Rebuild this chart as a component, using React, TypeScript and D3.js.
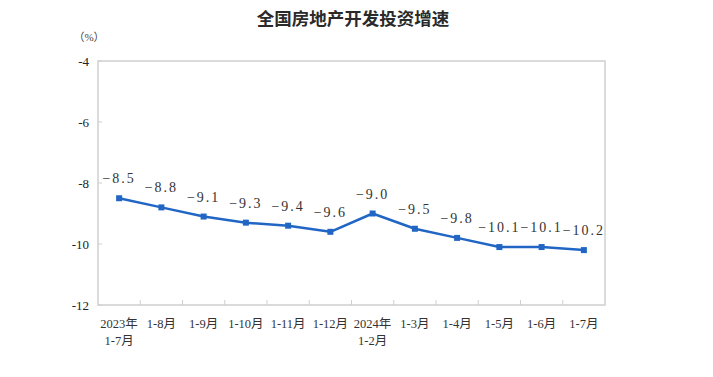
import React from "react";
import * as d3 from "d3";

const categories = ["2023年\n1-7月", "1-8月", "1-9月", "1-10月", "1-11月", "1-12月", "2024年\n1-2月", "1-3月", "1-4月", "1-5月", "1-6月", "1-7月"];
const values = [-8.5, -8.8, -9.1, -9.3, -9.4, -9.6, -9.0, -9.5, -9.8, -10.1, -10.1, -10.2];
const yTicks = [-4, -6, -8, -10, -12];
const title = "全国房地产开发投资增速";
const unitLabel = "（%）";

const W = 713, H = 377;
const M = { left: 98, right: 605, top: 61, bottom: 305 };
const FONT = "'Liberation Serif', 'DejaVu Serif', 'Noto Sans CJK SC', serif";
const BLUE = "#2166c4";

export default function App() {
  const x = d3.scaleBand<string>().domain(categories).range([M.left, M.right]);
  const y = d3.scaleLinear().domain([-12, -4]).range([M.bottom, M.top]);
  const pts = values.map((v, i) => [x(categories[i])! + x.bandwidth() / 2, y(v)] as [number, number]);
  const line = d3.line()(pts) || "";
  const boundaries = categories.slice(1).map((c) => x(c)!);

  return (
    <svg width={W} height={H} style={{ position: "absolute", left: 0, top: 0, background: "#fff" }}>
      <rect x={0} y={0} width={W} height={H} fill="#fff" />
      <text x={353} y={25} textAnchor="middle" fontSize={17.5} fontWeight="bold" fontFamily="'Noto Sans CJK SC', sans-serif" fill="#2a2a2a">{title}</text>
      <text x={89} y={41} textAnchor="middle" fontSize={11} fontFamily={FONT} fill="#444">{unitLabel}</text>
      <rect x={M.left} y={M.top} width={M.right - M.left} height={M.bottom - M.top} fill="none" stroke="#cfcfcf" strokeWidth={1.5} />
      {yTicks.map((t) => (
        <g key={t}>
          <line x1={M.left} x2={M.left + 4} y1={y(t)} y2={y(t)} stroke="#cfcfcf" />
          <text x={M.left - 9} y={y(t) + 4.5} textAnchor="end" fontSize={13} fontFamily={FONT} fill="#222">{t}</text>
        </g>
      ))}
      {boundaries.map((bx, i) => (
        <line key={i} x1={bx} x2={bx} y1={M.bottom} y2={M.bottom - 5} stroke="#cfcfcf" />
      ))}
      {categories.map((c, i) => {
        const lines = c.split("\n");
        const cx = x(c)! + x.bandwidth() / 2;
        return (
          <text key={i} x={cx} y={328} textAnchor="middle" fontSize={12.5} fontFamily={FONT} fill="#333">
            {lines.map((l, j) => (
              <tspan key={j} x={cx} dy={j === 0 ? 0 : 17}>{l}</tspan>
            ))}
          </text>
        );
      })}
      <path d={line} fill="none" stroke={BLUE} strokeWidth={2.5} strokeLinejoin="round" />
      {pts.map(([px, py], i) => (
        <rect key={i} x={px - 3} y={py - 3} width={6} height={6} fill={BLUE} />
      ))}
      {pts.map(([px, py], i) => (
        <text key={i} x={px} y={py - 15} textAnchor="middle" fontSize={14} letterSpacing={2} fontFamily={FONT} fill="#333">
          {values[i].toFixed(1).replace("-", "−")}
        </text>
      ))}
    </svg>
  );
}
